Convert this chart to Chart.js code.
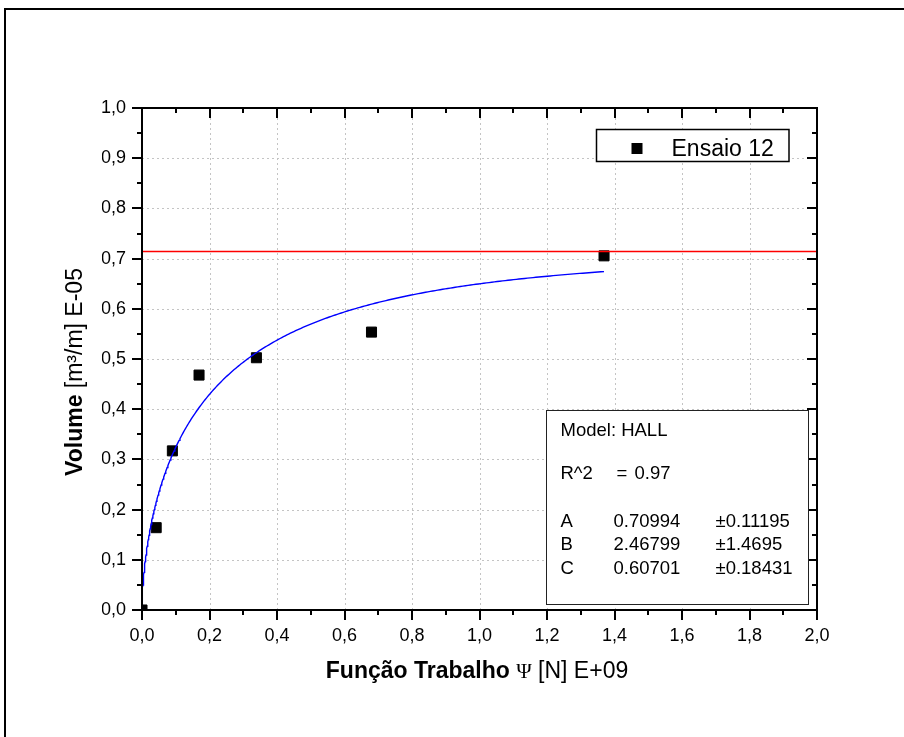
<!DOCTYPE html>
<html>
<head>
<meta charset="utf-8">
<script src="https://cdn.jsdelivr.net/npm/chart.js@4.4.1/dist/chart.umd.min.js"></script>
<style>
  html, body { margin: 0; padding: 0; background: #fff; }
  #wrap { position: relative; width: 904px; height: 737px; overflow: hidden; background: #fff; }
  #frame { position: absolute; left: 4px; top: 8px; width: 1000px; height: 1000px; border: 2px solid #000; box-sizing: border-box; }
  #c { position: absolute; left: 0; top: 0; }
</style>
</head>
<body>
<div id="wrap">
  <div id="frame"></div>
  <canvas id="c" width="904" height="737"></canvas>
</div>
<script>
// Measured points (work function vs. volume)
const workPsi   = [0, 0.042, 0.09, 0.169, 0.339, 0.68, 1.369];
const volumeVal = [0, 0.164, 0.317, 0.468, 0.5025, 0.5536, 0.7055];
const seriesLabel = 'Ensaio 12';

// Axis ranges and tick steps
const xRange = [0, 2];
const xStep = 0.2;
const yRange = [0, 1];
const yStep = 0.1;

// HALL model fit: V = A * (1 - exp(-B * Psi^C))
const modelName = 'HALL';
const paramNames  = ['A', 'B', 'C'];
const paramValues = [0.70994, 2.46799, 0.60701];
const paramErrors = [0.11195, 1.4695, 0.18431];
const rSquared = 0.97;
const fitEnd = 1.369;          // fit drawn over the measured range

// Horizontal reference (plateau) line
const plateauLevel = 0.714;

const FONT = '"Liberation Sans", Arial, Helvetica, sans-serif';
const SERIF = '"Liberation Serif", "DejaVu Serif", serif';

function hall(x) {
  const [A, B, C] = paramValues;
  return A * (1 - Math.exp(-B * Math.pow(x, C)));
}

// Evaluate the fitted model along the measured range (denser near the origin)
const fitCurve = [];
for (let i = 0; i <= 300; i++) {
  const t = i / 300;
  const x = fitEnd * t * t;
  fitCurve.push({ x: x, y: hall(x) });
}

const points = workPsi.map((x, i) => ({ x: x, y: volumeVal[i] }));
const plateau = [{ x: xRange[0], y: plateauLevel }, { x: xRange[1], y: plateauLevel }];

const fmt = v => Number(v).toFixed(1).replace('.', ',');

function drawSegments(ctx, segs, cx, baseline) {
  let total = 0;
  segs.forEach(s => { ctx.font = s.font; s.w = ctx.measureText(s.text).width; total += s.w; });
  let x = cx - total / 2;
  ctx.textAlign = 'left';
  ctx.textBaseline = 'alphabetic';
  segs.forEach(s => { ctx.font = s.font; ctx.fillText(s.text, x, baseline + (s.dy || 0)); x += s.w; });
}

const axisFrame = {
  id: 'axisFrame',
  beforeDatasetsDraw(chart) {
    const { ctx, chartArea: a, scales: { x, y } } = chart;
    ctx.save();
    ctx.strokeStyle = '#c4c4c4';
    ctx.lineWidth = 1;
    ctx.setLineDash([2, 3]);
    x.ticks.forEach(t => {
      if (t.value <= xRange[0] || t.value >= xRange[1]) return;
      const px = Math.round(x.getPixelForValue(t.value)) + 0.5;
      ctx.beginPath(); ctx.moveTo(px, a.top); ctx.lineTo(px, a.bottom); ctx.stroke();
    });
    y.ticks.forEach(t => {
      if (t.value <= yRange[0] || t.value >= yRange[1]) return;
      const py = Math.round(y.getPixelForValue(t.value)) + 0.5;
      ctx.beginPath(); ctx.moveTo(a.left, py); ctx.lineTo(a.right, py); ctx.stroke();
    });
    ctx.restore();
  },
  afterDatasetsDraw(chart) {
    const { ctx, chartArea: a, scales: { x, y } } = chart;
    ctx.save();
    ctx.setLineDash([]);
    ctx.strokeStyle = '#000';
    ctx.lineWidth = 2;
    ctx.strokeRect(a.left, a.top, a.right - a.left, a.bottom - a.top);

    const major = 10, minor = 5;
    const tick = (x1, y1, x2, y2) => { ctx.beginPath(); ctx.moveTo(x1, y1); ctx.lineTo(x2, y2); ctx.stroke(); };
    const xv = x.ticks.map(t => t.value);
    const yv = y.ticks.map(t => t.value);
    xv.forEach((v, i) => {
      const px = Math.round(x.getPixelForValue(v));
      tick(px, a.bottom, px, a.bottom + major);
      tick(px, a.top, px, a.top + major);
      if (i < xv.length - 1) {
        const pm = Math.round(x.getPixelForValue((v + xv[i + 1]) / 2));
        tick(pm, a.bottom, pm, a.bottom + minor);
        tick(pm, a.top, pm, a.top + minor);
      }
    });
    yv.forEach((v, i) => {
      const py = Math.round(y.getPixelForValue(v));
      tick(a.left - major, py, a.left, py);
      tick(a.right, py, a.right - major, py);
      if (i < yv.length - 1) {
        const pm = Math.round(y.getPixelForValue((v + yv[i + 1]) / 2));
        tick(a.left - minor, pm, a.left, pm);
        tick(a.right, pm, a.right - minor, pm);
      }
    });

    // Legend box
    const lx = a.right - 220.5, ly = a.top + 21.5, lw = 192.5, lh = 32;
    ctx.fillStyle = '#fff';
    ctx.fillRect(lx, ly, lw, lh);
    ctx.lineWidth = 1.5;
    ctx.strokeRect(lx, ly, lw, lh);
    ctx.fillStyle = '#000';
    ctx.fillRect(lx + 35, ly + 13.5, 11, 11);
    ctx.font = '23px ' + FONT;
    ctx.textAlign = 'left';
    ctx.textBaseline = 'alphabetic';
    ctx.fillText(chart.data.datasets[2].label, lx + 75, ly + 26.5);

    // Fit statistics box
    const sx = a.right - 270.5, sy = a.top + 302.5, sw = 262, sh = 194;
    ctx.fillStyle = '#fff';
    ctx.fillRect(sx, sy, sw, sh);
    ctx.lineWidth = 1;
    ctx.strokeStyle = '#222';
    ctx.strokeRect(sx, sy, sw, sh);
    ctx.fillStyle = '#000';
    ctx.font = '18.5px ' + FONT;
    const c0 = sx + 14, c1 = sx + 67, c2 = sx + 169;
    ctx.fillText('Model: ' + modelName, c0, sy + 25);
    ctx.fillText('R^2', c0, sy + 68);
    ctx.fillText('=', sx + 70, sy + 68);
    ctx.fillText(rSquared.toFixed(2), sx + 88, sy + 68);
    paramNames.forEach((n, i) => {
      const by = sy + 116 + i * 23.5;
      ctx.fillText(n, c0, by);
      ctx.fillText(String(paramValues[i]), c1, by);
      ctx.fillText('\u00B1' + String(paramErrors[i]), c2, by);
    });

    ctx.restore();
  },
  afterDraw(chart) {
    const { ctx } = chart;
    ctx.save();
    ctx.fillStyle = '#000';
    // X axis title
    drawSegments(ctx, [
      { text: 'Função Trabalho ', font: 'bold 23px ' + FONT },
      { text: '\u03A8', font: '21px ' + SERIF },
      { text: ' [N] E+09', font: '23px ' + FONT }
    ], 477, 678);
    // Y axis title
    ctx.translate(82, 372);
    ctx.rotate(-Math.PI / 2);
    drawSegments(ctx, [
      { text: 'Volume ', font: 'bold 23px ' + FONT },
      { text: '[m\u00B3/m] E-05', font: '23px ' + FONT }
    ], 0, 0);
    ctx.restore();
  }
};

new Chart(document.getElementById('c'), {
  type: 'scatter',
  data: {
    datasets: [
      {
        type: 'line', label: 'plateau', data: plateau,
        borderColor: '#ff0000', borderWidth: 1.5, pointRadius: 0, fill: false
      },
      {
        type: 'line', label: modelName, data: fitCurve,
        borderColor: '#0000ff', borderWidth: 1.4, pointRadius: 0, tension: 0, fill: false
      },
      {
        type: 'scatter', label: seriesLabel, data: points,
        pointStyle: 'rect', pointRadius: 7.1, backgroundColor: '#000', borderColor: '#000',
        borderWidth: 1, clip: 0
      }
    ]
  },
  options: {
    responsive: false,
    animation: false,
    devicePixelRatio: 1,
    layout: { padding: { left: 102, right: 87, top: 108, bottom: 87 } },
    plugins: { legend: { display: false }, tooltip: { enabled: false } },
    scales: {
      x: {
        type: 'linear', min: xRange[0], max: xRange[1],
        afterFit(s) { s.height = 40; },
        grid: { display: false, drawTicks: false },
        border: { display: false },
        ticks: {
          stepSize: xStep, padding: 15, color: '#000', maxRotation: 0, autoSkip: false,
          font: { family: FONT, size: 18 }, callback: v => fmt(v)
        }
      },
      y: {
        type: 'linear', min: yRange[0], max: yRange[1],
        afterFit(s) { s.width = 40; },
        grid: { display: false, drawTicks: false },
        border: { display: false },
        ticks: {
          stepSize: yStep, padding: 16, color: '#000', autoSkip: false,
          font: { family: FONT, size: 18 }, callback: v => fmt(v)
        }
      }
    }
  },
  plugins: [axisFrame]
});
</script>
</body>
</html>
